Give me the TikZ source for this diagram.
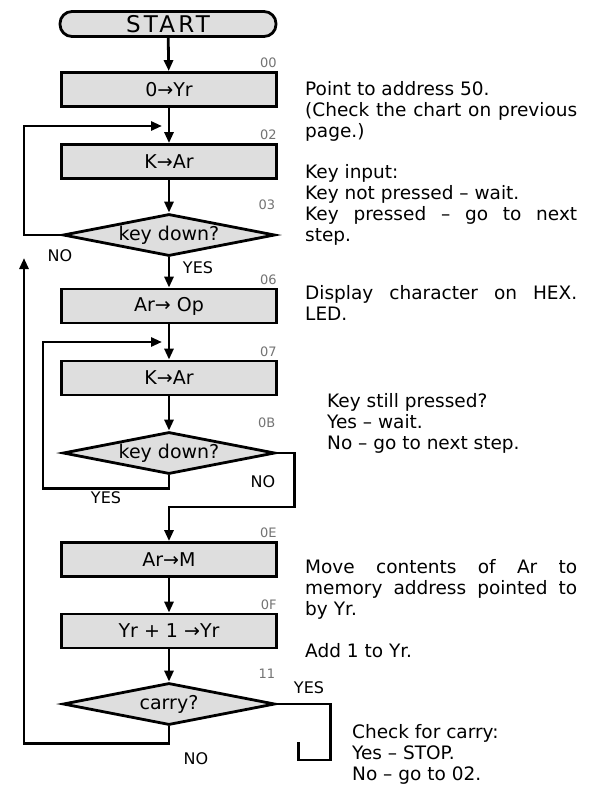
\documentclass[tikz,border=0pt]{standalone}
\usepackage{fontspec}
\setmainfont{DejaVu Sans}
\usetikzlibrary{shapes.geometric,arrows.meta}

\begin{document}
\begin{tikzpicture}[x=1pt, y=-1pt,
    proc/.style={draw, line width=2.8pt, fill=black!13, minimum width=215pt, minimum height=34pt, inner sep=0pt, font=\fontsize{19}{19}\selectfont},
    test/.style={draw, diamond, shape aspect=5, line width=2.8pt, fill=black!13, minimum width=212pt, minimum height=42pt, inner sep=0pt, font=\fontsize{19}{19}\selectfont},
    addr/.style={anchor=south east, inner sep=1pt, yshift=2pt, text=black!55, font=\fontsize{13}{13}\selectfont},
    yn/.style={inner sep=0pt, font=\fontsize{16}{16}\selectfont},
    note/.style={anchor=north west, inner sep=0pt, align=left, font=\fontsize{18.5}{21}\selectfont},
    wide/.style={note, text width=272pt, align=justify},
    flow/.style={line width=2.8pt, -{Triangle[length=11pt,width=9pt]}},
    wire/.style={line width=2.8pt}]
    \useasboundingbox (0,0) rectangle (593,785);

    \node[proc, rounded corners=12pt, minimum width=216pt, minimum height=25pt, font=\fontsize{23}{23}\selectfont\addfontfeature{LetterSpace=14}] (start) at (168,24) {START};
    \node[proc] (b00) at (169,89.5) {0→Yr};
    \node[proc] (b02) at (169,161.5) {K→Ar};
    \node[test] (d03) at (169,235) {key down?};
    \node[proc] (b06) at (169,306) {Ar→ Op};
    \node[proc] (b07) at (169,378) {K→Ar};
    \node[test] (d0B) at (169,453) {key down?};
    \node[proc] (b0E) at (169,559.5) {Ar→M};
    \node[proc] (b0F) at (169,631) {Yr + 1 →Yr};
    \node[test] (d11) at (169,704) {carry?};

    \node[addr] (a00) at (b00.north east) {00};
    \node[addr] (a02) at (b02.north east) {02};
    \node[addr] (a03) at (d03.north -| d03.east) {03};
    \node[addr] (a06) at (b06.north east) {06};
    \node[addr] (a07) at (b07.north east) {07};
    \node[addr] (a0B) at (d0B.north -| d0B.east) {0B};
    \node[addr] (a0E) at (b0E.north east) {0E};
    \node[addr] (a0F) at (b0F.north east) {0F};
    \node[addr] (a11) at (d11.north -| d11.east) {11};

    \coordinate (in02) at (162,126);
    \coordinate (in07) at (162,342);
    \coordinate (up02) at (24,258);
    \coordinate (mid0E) at (169,507);

    \draw[flow] (start) -- (b00);
    \draw[flow] (b00) -- (b02);
    \draw[flow] (b02) -- (d03);
    \draw[flow] (d03) -- (b06);
    \draw[flow] (b06) -- (b07);
    \draw[flow] (b07) -- (d0B);
    \draw[flow] (b0E) -- (b0F);
    \draw[flow] (b0F) -- (d11);
    \draw[flow] (d03.west) -| (up02 |- in02) -- (in02);
    \draw[flow] (d0B.south) -- ++(0,13) -| ([xshift=-119pt]in07) -- (in07);
    \draw[flow] (d0B.east) -- ++(18,0) |- (mid0E) -- (b0E);
    \draw[flow] (d11.south) -- ++(0,17) -| (up02);
    \draw[wire] (d11.east) -- ++(54,0) -- ++(0,56) -- ++(-32,0) -- ++(0,-18);

    \node[yn] (no03) at (60,256) {NO};
    \node[yn] (yes03) at (198,268) {YES};
    \node[yn] (yes0B) at (106,498) {YES};
    \node[yn] (no0B) at (263,482) {NO};
    \node[yn] (yes11) at (309,688) {YES};
    \node[yn] (no11) at (196,759) {NO};

    \node[wide] (n00) at (305,81) {Point to address 50.\\(Check the chart on previous\linebreak page.)};
    \node[wide] (n02) at (305,164) {Key input:\\Key not pressed -- wait.\\Key pressed -- go to next\linebreak step.};
    \node[wide] (n06) at (305,285) {Display character on HEX.\linebreak LED.};
    \node[note] (n0B) at (327,393) {Key still pressed?\\Yes -- wait.\\No -- go to next step.};
    \node[wide] (n0E) at (305,559) {Move contents of Ar to\linebreak memory address pointed to\linebreak by Yr.};
    \node[note] (n0F) at (305,643) {Add 1 to Yr.};
    \node[note] (n11) at (352,724) {Check for carry:\\Yes -- STOP.\\No -- go to 02.};
\end{tikzpicture}
\end{document}
